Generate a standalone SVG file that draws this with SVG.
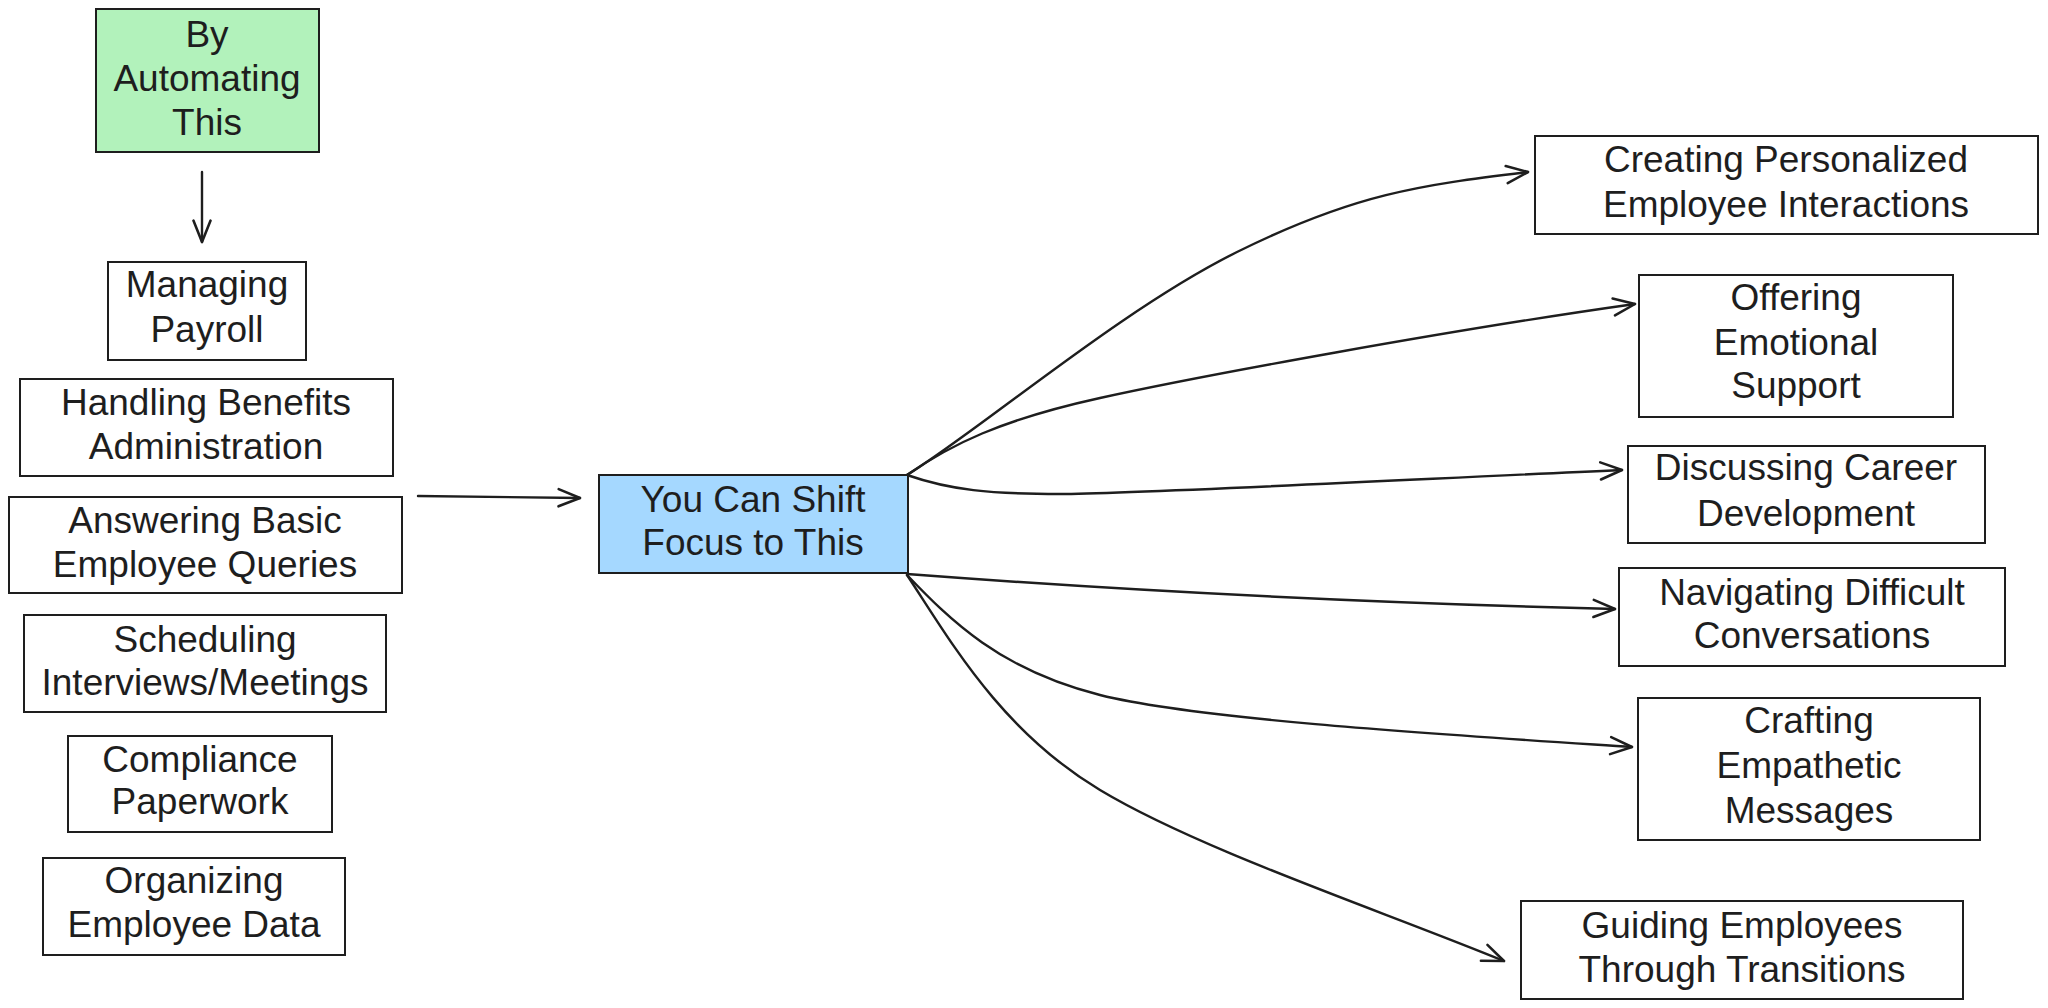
<svg xmlns="http://www.w3.org/2000/svg" width="2048" height="1008" viewBox="0 0 2048 1008">
<defs>
<marker id="arr" markerUnits="userSpaceOnUse" markerWidth="30" markerHeight="30" viewBox="-24 -12 28 24" refX="0" refY="0" orient="auto">
<path d="M-20,-8 L0,0 L-20,8" fill="none" stroke="#1e1e1e" stroke-width="2.4" stroke-linecap="round" stroke-linejoin="round"/>
</marker>
</defs>
<style>
.box{fill:#ffffff;stroke:#1e1e1e;stroke-width:2}
.green{fill:#b2f2bb}
.blue{fill:#a5d8ff}
text{font-family:"Liberation Sans","DejaVu Sans",sans-serif;font-size:37px;fill:#1e1e1e;text-anchor:middle}
.c{fill:none;stroke:#1e1e1e;stroke-width:2.4;stroke-linecap:round;marker-end:url(#arr)}
</style>
<rect width="2048" height="1008" fill="#ffffff"/>
<g id="connectors">
<path class="c" d="M202,172 L202,242"/>
<path class="c" d="M418,496 L580,498"/>
<path class="c" d="M907,475 C980,430 1120,310 1237,252 S1420,185 1528,172"/>
<path class="c" d="M907,475 C950,445 1000,420 1100,398 S1450,330 1635,304"/>
<path class="c" d="M907,475 C950,490 990,494 1060,494 S1400,480 1622,470"/>
<path class="c" d="M907,574 Q1250,600 1615,609"/>
<path class="c" d="M907,575 C950,620 1000,670 1100,695 S1450,735 1632,747"/>
<path class="c" d="M907,575 C950,640 1000,730 1100,790 S1380,910 1504,961"/>
</g>
<g id="by-automating">
<rect class="box green" x="96" y="9" width="223" height="143"/>
<text x="207" y="47">By</text>
<text x="207" y="91">Automating</text>
<text x="207" y="135">This</text>
</g>
<g id="managing-payroll">
<rect class="box" x="108" y="262" width="198" height="98"/>
<text x="207" y="297">Managing</text>
<text x="207" y="342">Payroll</text>
</g>
<g id="handling-benefits">
<rect class="box" x="20" y="379" width="373" height="97"/>
<text x="206" y="415">Handling Benefits</text>
<text x="206" y="459">Administration</text>
</g>
<g id="answering-queries">
<rect class="box" x="9" y="497" width="393" height="96"/>
<text x="205" y="533">Answering Basic</text>
<text x="205" y="577">Employee Queries</text>
</g>
<g id="scheduling">
<rect class="box" x="24" y="615" width="362" height="97"/>
<text x="205" y="652">Scheduling</text>
<text x="205" y="695">Interviews/Meetings</text>
</g>
<g id="compliance">
<rect class="box" x="68" y="736" width="264" height="96"/>
<text x="200" y="772">Compliance</text>
<text x="200" y="814">Paperwork</text>
</g>
<g id="organizing">
<rect class="box" x="43" y="858" width="302" height="97"/>
<text x="194" y="893">Organizing</text>
<text x="194" y="937">Employee Data</text>
</g>
<g id="shift-focus">
<rect class="box blue" x="599" y="475" width="309" height="98"/>
<text x="753" y="512">You Can Shift</text>
<text x="753" y="555">Focus to This</text>
</g>
<g id="creating-personalized">
<rect class="box" x="1535" y="136" width="503" height="98"/>
<text x="1786" y="172">Creating Personalized</text>
<text x="1786" y="217">Employee Interactions</text>
</g>
<g id="offering-support">
<rect class="box" x="1639" y="275" width="314" height="142"/>
<text x="1796" y="310">Offering</text>
<text x="1796" y="355">Emotional</text>
<text x="1796" y="398">Support</text>
</g>
<g id="discussing-career">
<rect class="box" x="1628" y="446" width="357" height="97"/>
<text x="1806" y="480">Discussing Career</text>
<text x="1806" y="526">Development</text>
</g>
<g id="navigating-conversations">
<rect class="box" x="1619" y="568" width="386" height="98"/>
<text x="1812" y="605">Navigating Difficult</text>
<text x="1812" y="648">Conversations</text>
</g>
<g id="crafting-messages">
<rect class="box" x="1638" y="698" width="342" height="142"/>
<text x="1809" y="733">Crafting</text>
<text x="1809" y="778">Empathetic</text>
<text x="1809" y="823">Messages</text>
</g>
<g id="guiding-transitions">
<rect class="box" x="1521" y="901" width="442" height="98"/>
<text x="1742" y="938">Guiding Employees</text>
<text x="1742" y="982">Through Transitions</text>
</g>
</svg>
